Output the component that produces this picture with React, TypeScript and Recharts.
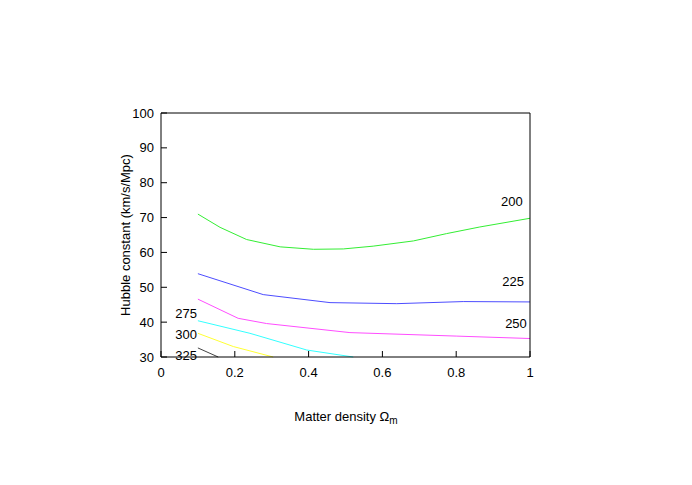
import { Label, Line, LineChart, ReferenceDot, XAxis, YAxis } from "recharts";

// contour levels (km/s/Mpc lines labelled by value)
const levels = ["200", "225", "250", "275", "300", "325"];
const colors = ["#33ee33", "#4d4dff", "#ff4dff", "#33ffff", "#ffff33", "#444444"];

const omega200 = [0.1, 0.16, 0.232, 0.323, 0.413, 0.494, 0.575, 0.684, 0.774, 0.864, 1.0];
const hubble200 = [71.0, 67.2, 63.7, 61.6, 60.9, 61.0, 61.8, 63.3, 65.4, 67.3, 69.8];

const omega225 = [0.1, 0.277, 0.458, 0.639, 0.819, 1.0];
const hubble225 = [53.9, 47.9, 45.6, 45.3, 45.9, 45.8];

const omega250 = [0.1, 0.209, 0.286, 0.512, 0.8, 1.0];
const hubble250 = [46.6, 41.1, 39.6, 37.0, 36.0, 35.3];

const omega275 = [0.1, 0.241, 0.395, 0.521];
const hubble275 = [40.4, 36.8, 32.0, 30.0];

const omega300 = [0.1, 0.196, 0.304];
const hubble300 = [36.8, 33.0, 30.0];

const omega325 = [0.1, 0.155];
const hubble325 = [32.6, 30.0];

// where gnuplot put the contour labels (data coordinates)
const labelOmega = [0.951, 0.954, 0.962, 0.068, 0.068, 0.068];
const labelHubble = [74.7, 51.8, 39.7, 42.6, 36.6, 30.6];

const xTicks = [0, 0.2, 0.4, 0.6, 0.8, 1];
const yTicks = [30, 40, 50, 60, 70, 80, 90, 100];

const omegas = [omega200, omega225, omega250, omega275, omega300, omega325];
const hubbles = [hubble200, hubble225, hubble250, hubble275, hubble300, hubble325];

const series = levels.map((lvl, i) => ({
  level: lvl,
  color: colors[i],
  points: omegas[i].map((x, j) => ({ x, h: hubbles[i][j] })),
}));

const FONT = "'Liberation Sans', Arial, sans-serif";
const tickStyle = { fontSize: 13, fill: "#000", fontFamily: FONT };

export default function App() {
  return (
    <div style={{ position: "absolute", left: 0, top: 0, background: "#fff" }}>
      <LineChart
        width={692}
        height={485}
        margin={{ top: 103, right: 152, bottom: 98, left: 101 }}
      >
        <XAxis
          xAxisId="b"
          dataKey="x"
          type="number"
          domain={[0, 1]}
          ticks={xTicks}
          allowDuplicatedCategory={false}
          height={30}
          stroke="#000"
          tickSize={-6}
          tickMargin={17}
          tick={tickStyle}
          tickFormatter={(v: number) => String(v)}
        >
          <Label
            content={() => (
              <text x={346} y={421} textAnchor="middle" fontSize={13} fontFamily={FONT} fill="#000">
                Matter density Ω
                <tspan fontSize={10} dy={3}>m</tspan>
              </text>
            )}
          />
        </XAxis>
        <XAxis
          xAxisId="t"
          orientation="top"
          type="number"
          domain={[0, 1]}
          ticks={xTicks}
          height={10}
          stroke="#000"
          tickSize={-6}
          tick={{ fill: "transparent", fontSize: 1 }}
        />
        <YAxis
          yAxisId="l"
          type="number"
          domain={[30, 100]}
          ticks={yTicks}
          width={60}
          stroke="#000"
          tickSize={-6}
          tickMargin={13}
          tick={tickStyle}
        >
          <Label
            content={() => (
              <text
                x={130}
                y={235}
                transform="rotate(-90 130 235)"
                textAnchor="middle"
                fontSize={13}
                fontFamily={FONT}
                fill="#000"
              >
                Hubble constant (km/s/Mpc)
              </text>
            )}
          />
        </YAxis>
        <YAxis
          yAxisId="r"
          orientation="right"
          type="number"
          domain={[30, 100]}
          ticks={yTicks}
          width={10}
          stroke="#000"
          tickSize={-6}
          tick={{ fill: "transparent", fontSize: 1 }}
        />
        {series.map((s) => (
          <Line
            key={s.level}
            xAxisId="b"
            yAxisId="l"
            data={s.points}
            dataKey="h"
            type="linear"
            stroke={s.color}
            strokeWidth={1}
            dot={false}
            activeDot={false}
            isAnimationActive={false}
          />
        ))}
        {levels.map((lvl, i) => (
          <ReferenceDot
            key={"lab" + lvl}
            xAxisId="b"
            yAxisId="l"
            x={labelOmega[i]}
            y={labelHubble[i]}
            r={0}
            stroke="none"
            fill="none"
            label={{ value: lvl, position: "center", fontSize: 13, fill: "#000", fontFamily: FONT }}
          />
        ))}
      </LineChart>
    </div>
  );
}
